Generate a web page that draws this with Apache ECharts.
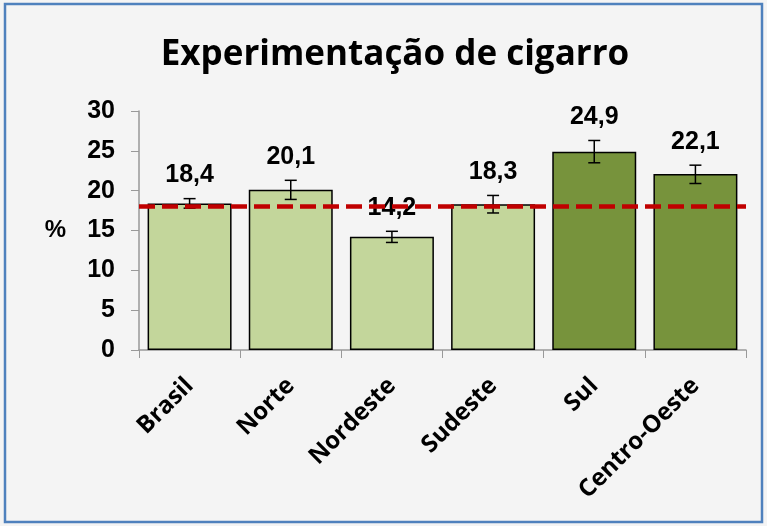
<!DOCTYPE html>
<html>
<head>
<meta charset="utf-8">
<script src="https://cdn.jsdelivr.net/npm/echarts@6/dist/echarts.min.js"></script>
<style>
  html, body { margin: 0; padding: 0; background: #f4f4f4; }
  #chart { width: 767px; height: 526px; }
</style>
</head>
<body>
<div id="chart"></div>
<script>
  var categories = ['Brasil', 'Norte', 'Nordeste', 'Sudeste', 'Sul', 'Centro-Oeste'];
  var values = [18.4, 20.1, 14.2, 18.3, 24.9, 22.1];
  var errLow = [17.8, 18.9, 13.5, 17.2, 23.5, 20.9];
  var errHigh = [19.0, 21.3, 14.9, 19.4, 26.3, 23.2];
  var barColors = ['#c3d69b', '#c3d69b', '#c3d69b', '#c3d69b', '#77933c', '#77933c'];
  var brasilLine = 18;
  var yTicks = [0, 5, 10, 15, 20, 25, 30];

  function fmt(v) {
    return v.toFixed(1).replace('.', ',');
  }

  var chart = echarts.init(document.getElementById('chart'));

  var barData = values.map(function(v, i) {
    return { value: v, itemStyle: { color: barColors[i] } };
  });
  var errData = values.map(function(v, i) {
    return [i, errLow[i], errHigh[i], v];
  });

  chart.setOption({
    backgroundColor: '#f4f4f4',
    animation: false,
    title: {
      text: 'Experimentação de cigarro',
      left: 390,
      textAlign: 'center',
      top: 33,
      textStyle: { fontFamily: 'Open Sans', fontWeight: 'bold', fontSize: 35, color: '#000' }
    },
    graphic: [{
      type: 'rect',
      shape: { x: 5, y: 4, width: 757, height: 518 },
      style: { fill: 'transparent', stroke: '#4f81bd', lineWidth: 2.5 },
      silent: true
    }],
    grid: { left: 139, right: 21, top: 111, bottom: 176 },
    xAxis: {
      type: 'category',
      data: categories,
      axisLine: { lineStyle: { color: '#999', width: 1.5 } },
      axisTick: { show: true, length: 8, alignWithLabel: false, lineStyle: { color: '#999' } },
      axisLabel: {
        rotate: 45,
        margin: 32,
        color: '#000',
        fontFamily: 'Open Sans',
        fontWeight: 'bold',
        fontSize: 24
      }
    },
    yAxis: {
      type: 'value',
      min: 0,
      max: 30,
      interval: 5,
      name: '%',
      nameLocation: 'middle',
      nameGap: 73,
      nameRotate: 0,
      nameTextStyle: { fontFamily: 'Liberation Sans', fontWeight: 'bold', fontSize: 24, color: '#000' },
      axisLine: { show: true, lineStyle: { color: '#999', width: 1.5 } },
      axisTick: { show: true, length: 8, lineStyle: { color: '#999' } },
      splitLine: { show: false },
      axisLabel: {
        margin: 24,
        color: '#000',
        fontFamily: 'Liberation Sans',
        fontWeight: 'bold',
        fontSize: 25,
        formatter: function(v) { return yTicks.indexOf(v) >= 0 ? String(v) : ''; }
      }
    },
    series: [{
      type: 'bar',
      data: barData,
      barCategoryGap: '17%',
      itemStyle: { borderColor: '#000', borderWidth: 1.5 },
      z: 2
    }, {
      type: 'custom',
      data: errData,
      z: 3,
      renderItem: function(params, api) {
        var x = api.value(0);
        var lo = api.coord([x, api.value(1)]);
        var hi = api.coord([x, api.value(2)]);
        var cap = 6;
        var style = { stroke: '#000', lineWidth: 1.5 };
        return {
          type: 'group',
          children: [
            { type: 'line', shape: { x1: hi[0], y1: hi[1], x2: lo[0], y2: lo[1] }, style: style },
            { type: 'line', shape: { x1: hi[0] - cap, y1: hi[1], x2: hi[0] + cap, y2: hi[1] }, style: style },
            { type: 'line', shape: { x1: lo[0] - cap, y1: lo[1], x2: lo[0] + cap, y2: lo[1] }, style: style },
            {
              type: 'text',
              x: hi[0],
              y: hi[1] - 11,
              style: {
                text: fmt(api.value(3)),
                fill: '#000',
                font: 'bold 25px "Liberation Sans"',
                align: 'center',
                verticalAlign: 'bottom'
              }
            }
          ]
        };
      }
    }, {
      type: 'line',
      data: [],
      markLine: {
        silent: true,
        symbol: 'none',
        label: { show: false },
        lineStyle: { color: '#c00000', width: 4.5, type: [16, 7] },
        data: [{ yAxis: brasilLine }]
      },
      z: 4
    }]
  });
</script>
</body>
</html>
